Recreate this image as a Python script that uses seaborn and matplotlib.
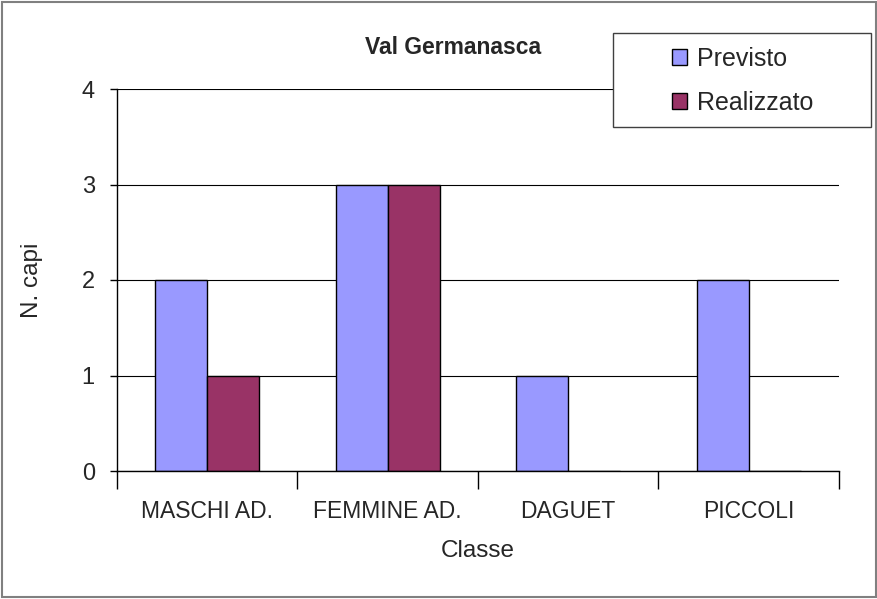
import matplotlib
matplotlib.use("Agg")
import matplotlib.pyplot as plt
import numpy as np
import pandas as pd
import seaborn as sns
from matplotlib.patches import Rectangle

classi = ["MASCHI AD.", "FEMMINE AD.", "DAGUET", "PICCOLI"]
previsto = [2, 3, 1, 2]
realizzato = [1, 3, 0, 0]
serie = ["Previsto", "Realizzato"]
colori = ["#9999FF", "#993366"]

sns.set_style("white")
plt.rcParams["font.family"] = ["Liberation Sans", "DejaVu Sans"]

df = pd.DataFrame({
    "Classe": classi * 2,
    "N. capi": previsto + realizzato,
    "Serie": [serie[0]] * len(classi) + [serie[1]] * len(classi),
})

W, H = 878, 599
fig = plt.figure(figsize=(W / 100, H / 100), dpi=100)
ax = fig.add_axes([117 / W, 1 - 471 / H, (839 - 117) / W, (471 - 89) / H])

sns.barplot(data=df, x="Classe", y="N. capi", hue="Serie", order=classi,
            hue_order=serie, palette=colori, width=0.576, edgecolor="black",
            linewidth=1, saturation=1, legend=False, ax=ax)

ax.set_xlim(-0.5, len(classi) - 0.5)
ax.set_ylim(0, 4)
ax.set_yticks(range(5))
ax.yaxis.grid(True, color="black", linewidth=0.8)
ax.set_axisbelow(True)
for s in ["top", "right"]:
    ax.spines[s].set_visible(False)
for s in ["left", "bottom"]:
    ax.spines[s].set_color("black")
    ax.spines[s].set_linewidth(1)

ax.tick_params(axis="y", which="major", direction="out", length=5, width=1,
               color="black", labelsize=17, pad=11, left=True)
ax.tick_params(axis="x", which="major", length=0, labelsize=16.5, pad=21)
ax.set_xticks(np.arange(-0.5, len(classi)), minor=True)
ax.tick_params(axis="x", which="minor", direction="out", length=13, width=1,
               color="black", bottom=True)

ax.set_xlabel("Classe", fontsize=17.5, labelpad=12)
ax.set_ylabel("N. capi", fontsize=17.5, labelpad=28)

fig.text(453 / W, 1 - 47 / H, "Val Germanasca", ha="center", va="center",
         fontsize=16.5, fontweight="bold")

# legend box
fig.patches.append(Rectangle((613 / W, 1 - 127 / H), (871 - 613) / W, (127 - 33) / H,
                             transform=fig.transFigure, facecolor="white",
                             edgecolor="#404040", linewidth=1, zorder=5))
handles = [Rectangle((0, 0), 1, 1, facecolor=c, edgecolor="black", linewidth=1) for c in colori]
leg = fig.legend(handles, serie, loc="upper left", bbox_to_anchor=(672 / W, 1 - 47 / H),
                 frameon=False, borderpad=0, borderaxespad=0, fontsize=18,
                 handlelength=0.6, handleheight=0.6, handletextpad=0.4,
                 labelspacing=0.8)
leg.set_zorder(6)

# outer border
fig.patches.append(Rectangle((0.002, 0.003), 0.996, 0.994, transform=fig.transFigure,
                             facecolor="none", edgecolor="#808080", linewidth=1.5))

fig.savefig("out.png", dpi=100)
